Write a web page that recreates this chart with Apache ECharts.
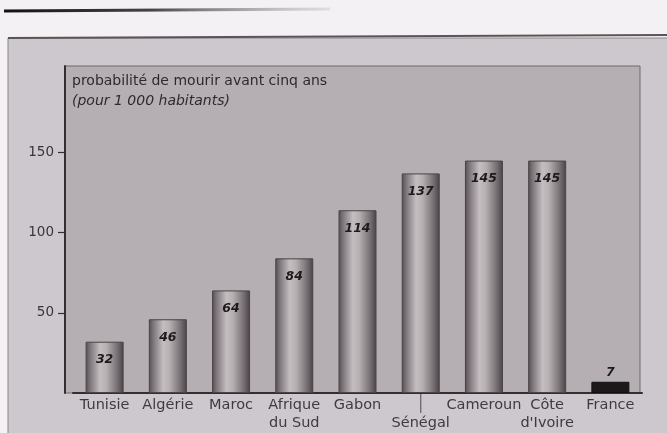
<!DOCTYPE html>
<html>
<head>
<meta charset="utf-8">
<script src="https://cdn.jsdelivr.net/npm/echarts@6/dist/echarts.min.js"></script>
<style>html,body{margin:0;padding:0;background:#f3f1f3;}#c{width:667px;height:433px;}</style>
</head>
<body>
<div id="c"></div>
<script>
const categories = ['Tunisie', 'Algérie', 'Maroc', 'Afrique\ndu Sud', 'Gabon', 'Sénégal', 'Cameroun', 'Côte\nd\'Ivoire', 'France'];
const values = [32, 46, 64, 84, 114, 137, 145, 145, 7];
const yTicks = [50, 100, 150];
const titleLine1 = 'probabilité de mourir avant cinq ans';
const titleLine2 = '(pour 1 000 habitants)';

const chart = echarts.init(document.getElementById('c'), null, {renderer: 'canvas'});

const cylGrad = new echarts.graphic.LinearGradient(0, 0, 1, 0, [
  {offset: 0, color: '#554d51'},
  {offset: 0.12, color: '#7e767a'},
  {offset: 0.38, color: '#c4bec1'},
  {offset: 0.55, color: '#b6afb2'},
  {offset: 0.82, color: '#7a7276'},
  {offset: 1, color: '#4a4346'}
]);

const data = values.map((v, i) => {
  if (categories[i] === 'France') {
    return {value: v, itemStyle: {color: '#1d191b', borderColor: '#111'},
      label: {position: 'top', distance: 3, color: '#1a1a1a'}};
  }
  return {value: v};
});

const labelFont = 'DejaVu Sans';

chart.setOption({
  backgroundColor: '#f3f1f3',
  animation: false,
  graphic: [
    {type: 'line', z: -20, shape: {x1: 4, y1: 11, x2: 330, y2: 9},
      style: {lineWidth: 3, stroke: new echarts.graphic.LinearGradient(0, 0, 1, 0, [
        {offset: 0, color: '#111'}, {offset: 0.45, color: '#444'}, {offset: 1, color: 'rgba(180,180,180,0.3)'}])}},
    {type: 'rect', z: -20, shape: {x: 8, y: 38, width: 670, height: 400},
      style: {fill: '#cdc8cd', stroke: '#8a8488', lineWidth: 1}},
    {type: 'line', z: -19, shape: {x1: 8, y1: 38, x2: 667, y2: 35},
      style: {lineWidth: 2, stroke: '#5a5458'}},
    {type: 'rect', z: -18, shape: {x: 65, y: 66, width: 575, height: 327},
      style: {fill: '#b5afb4', stroke: '#6e686c', lineWidth: 1}},
    {type: 'text', z: 5, left: 72, top: 74,
      style: {text: titleLine1, font: '14px "DejaVu Sans"', fill: '#2e2a2c'}},
    {type: 'text', z: 5, left: 72, top: 94,
      style: {text: titleLine2, font: 'italic 14px "DejaVu Sans"', fill: '#2e2a2c'}}
  ],
  grid: {left: 73, right: 25, top: 66, bottom: 40, containLabel: false},
  xAxis: {
    type: 'category',
    data: categories,
    axisLine: {lineStyle: {color: '#332e31', width: 2}},
    axisTick: {show: false},
    axisLabel: {
      interval: 0, margin: 3, fontFamily: labelFont, fontSize: 14.5, color: '#3f3b3d', lineHeight: 18,
      formatter: function (v) {
        if (v === 'Sénégal') return '{l|│}\n{n|Sénégal}';
        return v;
      },
      rich: {
        l: {fontSize: 16, color: '#6a6468', lineHeight: 18},
        n: {fontFamily: labelFont, fontSize: 14.5, color: '#3f3b3d', lineHeight: 18}
      }
    }
  },
  yAxis: {
    type: 'value',
    min: 0, max: 204, interval: 50,
    offset: 8,
    splitLine: {show: false},
    axisLine: {show: true, lineStyle: {color: '#332e31', width: 2}},
    axisTick: {show: true, length: 7, customValues: yTicks, lineStyle: {color: '#332e31', width: 1.2}},
    axisLabel: {customValues: yTicks, margin: 11, fontFamily: labelFont, fontSize: 13.5, color: '#3a3638'}
  },
  series: [{
    type: 'bar',
    data: data,
    barWidth: 38,
    itemStyle: {color: cylGrad, borderColor: '#4a4346', borderWidth: 1},
    label: {
      show: true, position: 'insideTop', distance: 12,
      fontFamily: labelFont, fontStyle: 'italic', fontWeight: 'bold', fontSize: 12.5, color: '#1e1a1c'
    }
  }]
});
</script>
</body>
</html>
